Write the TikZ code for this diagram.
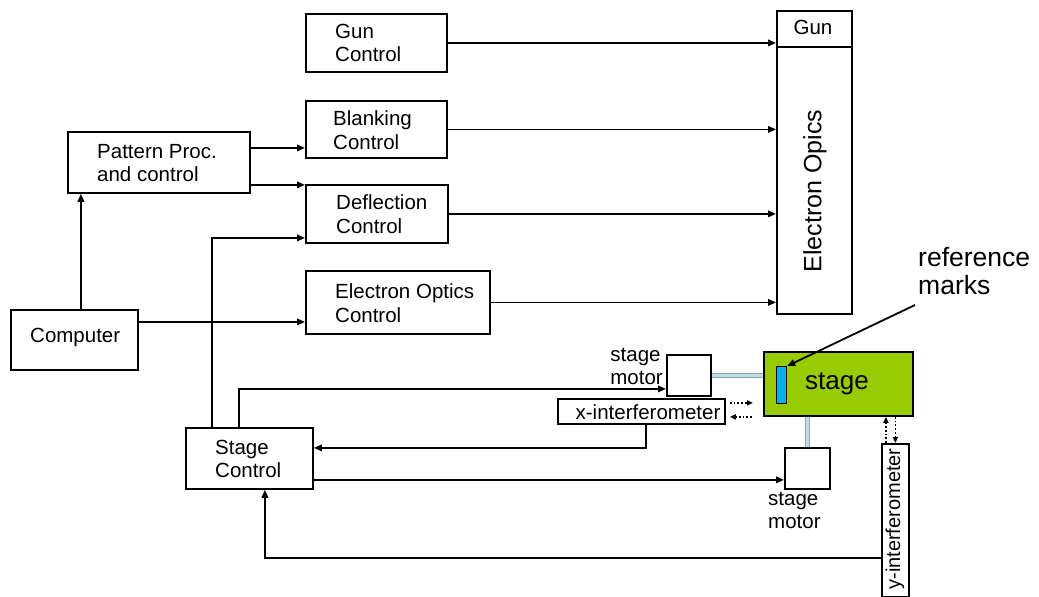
\documentclass[tikz,border=0pt]{standalone}
\usepackage{fontspec}
\setmainfont{Liberation Sans}
\usetikzlibrary{arrows.meta,calc}
\definecolor{stagegreen}{HTML}{99CC00}
\definecolor{markblue}{HTML}{00B0F0}
\definecolor{shaftfill}{HTML}{BFDFE8}
\definecolor{shaftedge}{HTML}{8AA6AE}
\begin{document}
\begin{tikzpicture}[x=1pt,y=-1pt,
  box/.style={draw=black, line width=1.8pt, fill=white, anchor=north west, inner sep=0pt},
  lbl/.style={align=left, inner sep=0pt, font=\fontsize{20.5}{23.5}\selectfont},
  ar/.style={line width=1.8pt, -{Triangle[length=8pt,width=6.5pt]}},
  dar/.style={line width=1.8pt, dotted, -{Triangle[length=6pt,width=5pt]}},
  shaft/.style={draw=shaftedge, line width=1pt, double=shaftfill, double distance=3.5pt}]
\useasboundingbox (0,0) rectangle (1039,597);

% boxes
\node[box, minimum width=141, minimum height=58] (gunc) at (305,13) {};
\node[box, minimum width=141, minimum height=57] (blk) at (305,100) {};
\node[box, minimum width=142, minimum height=58] (dfl) at (305,184) {};
\node[box, minimum width=184, minimum height=63] (eoc) at (305,270) {};
\node[box, minimum width=182, minimum height=61] (pp) at (67,131) {};
\node[box, minimum width=127, minimum height=60] (comp) at (10,309) {};
\node[box, minimum width=127, minimum height=61] (sc) at (185,427) {};
\node[box, minimum width=75, minimum height=36] (gun) at (776,10) {};
\node[box, minimum width=75, minimum height=267] (eo) at (776,46) {};
\node[box, minimum width=149, minimum height=64, fill=stagegreen] (stage) at (763,351) {};
\node[box, minimum width=10, minimum height=37, fill=markblue, line width=1.2pt] (mark) at (776,366) {};
\node[box, minimum width=44, minimum height=41] (sm1) at (666,354) {};
\node[box, minimum width=167, minimum height=25] (xint) at (557,398) {};
\node[box, minimum width=45, minimum height=41] (sm2) at (784,447) {};
\node[box, minimum width=27, minimum height=153] (yint) at (881,443) {};

% texts
\node[lbl, anchor=west] (tgunc) at (335,43) {Gun\\Control};
\node[lbl, anchor=west] (tblk) at (333,130) {Blanking\\Control};
\node[lbl, anchor=west] (tdfl) at (336,214) {Deflection\\Control};
\node[lbl, anchor=west] (teoc) at (335,303) {Electron Optics\\Control};
\node[lbl, anchor=west] (tpp) at (97,163) {Pattern Proc.\\and control};
\node[lbl, anchor=west] (tcomp) at (30,337) {Computer};
\node[lbl, anchor=west] (tsc) at (215,459) {Stage\\Control};
\node[lbl, font=\fontsize{20.5}{24}\selectfont] (tgun) at (813,27) {Gun};
\node[lbl, rotate=90, font=\fontsize{25}{30}\selectfont] (teo) at (815,191) {Electron Opics};
\node[lbl, font=\fontsize{26}{30}\selectfont] (tstage) at (837,384) {stage};
\node[lbl, font=\fontsize{20.5}{23}\selectfont] (txint) at (648,412) {x-interferometer};
\node[lbl, rotate=90, font=\fontsize{20}{23}\selectfont] (tyint) at (895,519) {y-interferometer};
\node[lbl, anchor=east, font=\fontsize{20.5}{23}\selectfont] (tsm1) at (663,366) {stage\\motor};
\node[lbl, anchor=west, font=\fontsize{20.5}{23}\selectfont] (tsm2) at (768,510) {stage\\motor};
\node[lbl, anchor=north west, font=\fontsize{26.5}{28}\selectfont] (tref) at (918,247) {reference\\marks};

% connectors to electron optics
\draw[ar] (gunc.east) -- (gunc.east -| eo.west);
\draw[ar] (blk.east) -- (blk.east -| eo.west);
\draw[ar] (dfl.east) -- (dfl.east -| eo.west);
\draw[ar] (eoc.east) -- (eoc.east -| eo.west);

% pattern proc
\coordinate (ppa) at ([yshift=14.5pt]pp.east);
\coordinate (ppb) at ([yshift=-22.5pt]pp.east);
\draw[ar] (ppa) -- (ppa -| blk.west);
\draw[ar] (ppb) -- (ppb -| dfl.west);

% computer
\coordinate (c1) at ([xshift=6.5pt]comp.north);
\draw[ar] (c1) -- (c1 |- pp.south);
\coordinate (c2) at ([yshift=18pt]comp.east);
\draw[ar] (c2) -- (c2 -| eoc.west);

% stage control
\coordinate (d1) at ([yshift=-24pt]dfl.west);
\draw[ar] ([xshift=-37.5pt]sc.north) |- (d1);
\draw[ar] ([xshift=-10.5pt]sc.north) |- ([yshift=-13.5pt]sm1.west);
\draw[ar] ([xshift=4.5pt]xint.south) |- ([yshift=10.5pt]sc.east);
\coordinate (s3) at ([yshift=-21.5pt]sc.east);
\draw[ar] (s3) -- (s3 -| sm2.west);
\draw[ar] ([yshift=-37.5pt]yint.west) -| ([xshift=15.5pt]sc.south);

% shafts
\draw[shaft] (sm1.east) -- (sm1.east -| stage.west);
\draw[shaft] (sm2.north |- stage.south) -- (sm2.north);

% dotted interferometer beams
\coordinate (xs) at (xint.east -| stage.west);
\draw[dar] ($(xint.east)+(4,-8.5)$) -- ($(xs)+(-10,-8.5)$);
\draw[dar] ($(xs)+(-11,5.5)$) -- ($(xint.east)+(4,5.5)$);
\coordinate (ys) at (yint.north |- stage.south);
\draw[dar] ($(yint.north)+(-9.5,0)$) -- ($(ys)+(-9.5,0)$);
\draw[dar] (ys) -- (yint.north);

% reference marks pointer
\coordinate (rm) at (915,305);
\draw[ar] (rm) -- (mark.north east);
\end{tikzpicture}
\end{document}
